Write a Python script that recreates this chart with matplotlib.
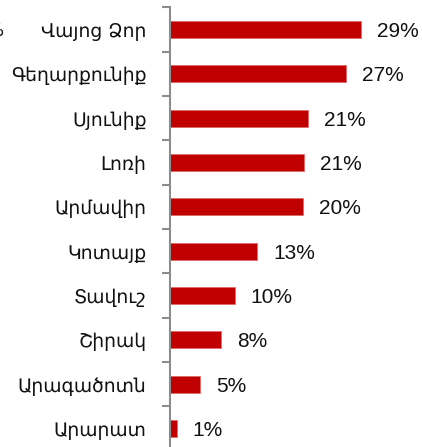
import numpy as np
import matplotlib
matplotlib.use("Agg")
import matplotlib.pyplot as plt

# regions, top to bottom
regions = ["Վայոց Ձոր", "Գեղարքունիք", "Սյունիք", "Լոռի", "Արմավիր",
           "Կոտայք", "Տավուշ", "Շիրակ", "Արագածոտն", "Արարատ"]
shares = [29.0, 26.7, 20.9, 20.3, 20.1, 13.2, 9.8, 7.7, 4.5, 1.0]
share_labels = ["29%", "27%", "21%", "21%", "20%", "13%", "10%", "8%", "5%", "1%"]

W, H = 422, 447
fig = plt.figure(figsize=(W / 100, H / 100), dpi=100)

# axes placed so the category axis sits at x=170 px
px_per_pct = 6.6
ax_w = 250
ax = fig.add_axes([170 / W, -3.7 / H, ax_w / W, 443.3 / H])

y = np.arange(len(regions))
ax.barh(y, shares, height=0.38, color="#C00000", edgecolor="#E06060", linewidth=0.4)
ax.set_xlim(0, ax_w / px_per_pct)
ax.set_ylim(len(regions) - 0.5, -0.5)

for yi, v, lab in zip(y, shares, share_labels):
    ax.annotate(lab, (v, yi), xytext=(11.5, -5.3), textcoords="offset points",
                va="baseline", ha="left", fontsize=15,
                family=["Liberation Sans", "DejaVu Sans"], color="#111111")

ax.set_yticks(y)
ax.set_yticklabels(regions, fontsize=13.5, family="DejaVu Sans", color="#111111")
ax.tick_params(axis="y", which="major", length=0, pad=17)
ax.set_yticks(np.arange(len(regions) + 1) - 0.5, minor=True)
ax.tick_params(axis="y", which="minor", length=5.5, width=1.5, color="#8c8c8c")
ax.set_xticks([])

for s in ["top", "right", "bottom"]:
    ax.spines[s].set_visible(False)
ax.spines["left"].set_color("#8c8c8c")
ax.spines["left"].set_linewidth(1.5)

# clipped fragment at the left edge
fig.text(4 / W, 1 - 31 / H, "%", ha="right", va="center", fontsize=13,
         family="DejaVu Sans", color="#111111")

fig.savefig("out.png", dpi=100)
